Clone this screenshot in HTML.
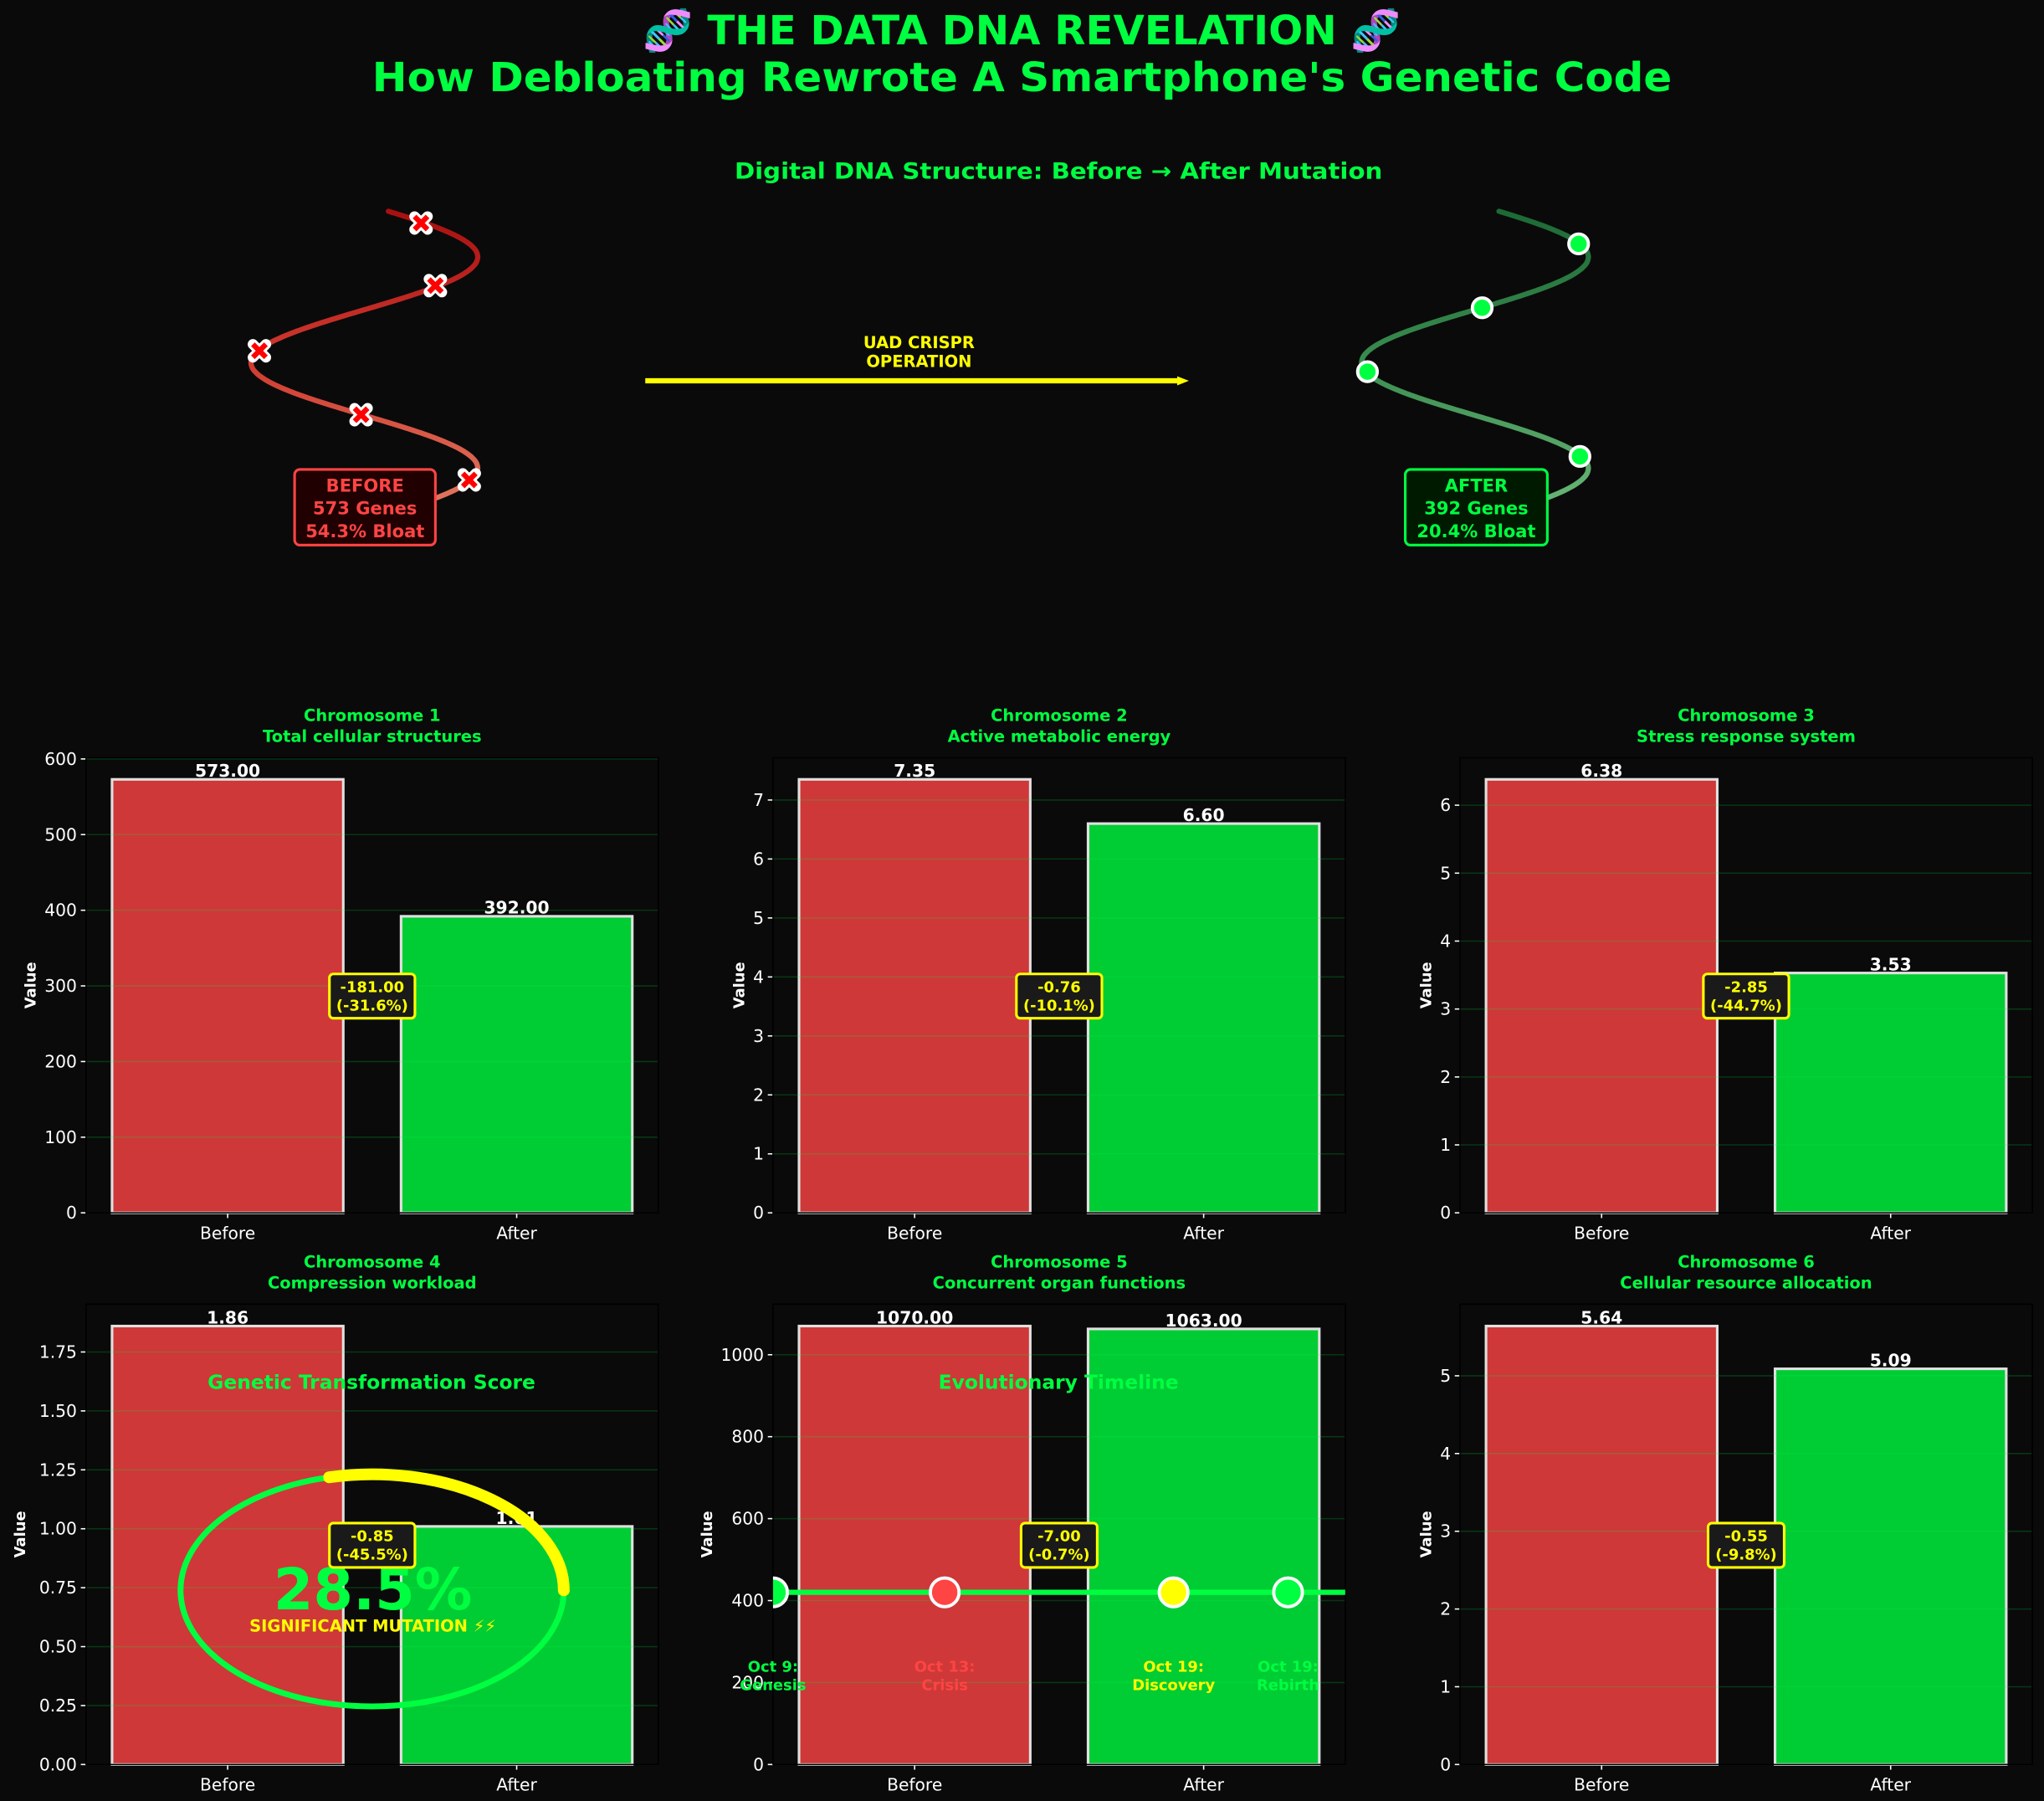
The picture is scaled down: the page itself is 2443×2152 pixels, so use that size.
<!DOCTYPE html>
<html><head><meta charset="utf-8">
<style>
html,body{margin:0;padding:0;background:#0a0a0a;}
svg{display:block;font-family:"DejaVu Sans","Liberation Sans",sans-serif;}
</style></head>
<body>
<svg id="fig" width="2443" height="2152" viewBox="0 0 1568 1381" preserveAspectRatio="none" xmlns="http://www.w3.org/2000/svg">
<defs>
<linearGradient id="redGrad" x1="0" y1="0" x2="0" y2="1"><stop offset="0" stop-color="#a81010"/><stop offset="0.5" stop-color="#d03a30"/><stop offset="1" stop-color="#e07a60"/></linearGradient>
<linearGradient id="greenGrad" x1="0" y1="0" x2="0" y2="1"><stop offset="0" stop-color="#1c6a35"/><stop offset="0.5" stop-color="#3a8c50"/><stop offset="1" stop-color="#6ab878"/></linearGradient>
<marker id="arrowHead" markerUnits="userSpaceOnUse" markerWidth="10" markerHeight="10" refX="3" refY="5" orient="auto"><path d="M0,1.5 L9,5 L0,8.5 z" fill="#ffff00"/></marker>
<clipPath id="clip5"><rect x="593" y="1000" width="439" height="353"/></clipPath>
</defs>
<rect x="0" y="0" width="1568" height="1381" fill="#0a0a0a"/>
<text x="784" y="34" text-anchor="middle" font-size="31" font-weight="bold" fill="#00ff41">🧬 THE DATA DNA REVELATION 🧬</text>
<text x="784" y="70" text-anchor="middle" font-size="31" font-weight="bold" fill="#00ff41" textLength="997" lengthAdjust="spacingAndGlyphs">How Debloating Rewrote A Smartphone's Genetic Code</text>
<text x="812" y="137" text-anchor="middle" font-size="17" font-weight="bold" fill="#00ff41" textLength="497" lengthAdjust="spacingAndGlyphs">Digital DNA Structure: Before → After Mutation</text>

<g id="dna"></g>
<g id="charts"></g>
</svg>
<script>
const categories = ['Before', 'After'];
const chromTitles = ['Chromosome 1','Chromosome 2','Chromosome 3','Chromosome 4','Chromosome 5','Chromosome 6'];
const chromSubs = ['Total cellular structures','Active metabolic energy','Stress response system','Compression workload','Concurrent organ functions','Cellular resource allocation'];
const beforeVals = [573, 7.35, 6.38, 1.86, 1070, 5.64];
const afterVals = [392, 6.60, 3.53, 1.01, 1063, 5.09];
const yTicks = [[0,100,200,300,400,500,600],[0,1,2,3,4,5,6,7],[0,1,2,3,4,5,6],[0,0.25,0.5,0.75,1,1.25,1.5,1.75],[0,200,400,600,800,1000],[0,1,2,3,4,5]];
const tickDecimals = [0,0,0,2,0,0];
const deltaLabels = ['-181.00\n(-31.6%)','-0.76\n(-10.1%)','-2.85\n(-44.7%)','-0.85\n(-45.5%)','-7.00\n(-0.7%)','-0.55\n(-9.8%)'];
const beforeGenes = 573, beforeBloat = 54.3, afterGenes = 392, afterBloat = 20.4;
const transformScore = 28.5;
const timelineDates = ['Oct 9:','Oct 13:','Oct 19:','Oct 19:'];
const timelineEvents = ['Genesis','Crisis','Discovery','Rebirth'];
const timelinePos = [0, 0.3, 0.7, 0.9];

const NS = 'http://www.w3.org/2000/svg';
function mk(tag, attrs, parent){const e=document.createElementNS(NS,tag);for(const k in attrs)e.setAttribute(k,attrs[k]);parent.appendChild(e);return e;}

/* ---------- DNA helices ---------- */
const dna = document.getElementById('dna');
function helix(cx, grad, name){
  let d='';
  for(let y=162;y<=393;y+=1){
    const t=(y-197)/81*Math.PI+Math.PI/2;
    const x=cx+87*Math.sin(t);
    d+=(d?'L':'M')+x.toFixed(1)+','+y;
  }
  const p=mk('path',{d:d,fill:'none',stroke:'url(#'+grad+')','stroke-width':4,'stroke-linecap':'round'},dna);
  
  
}
helix(279.5,'redGrad','before-helix');
helix(1131.5,'greenGrad','after-helix');
const xMarks=[[323,171],[334,219],[199,269],[277,318],[360,368]];
xMarks.forEach(function(m){
  const g=mk('g',{},dna);
  
  
  const a='M'+(m[0]-5)+','+(m[1]-5)+'L'+(m[0]+5)+','+(m[1]+5)+'M'+(m[0]+5)+','+(m[1]-5)+'L'+(m[0]-5)+','+(m[1]+5);
  mk('path',{d:a,stroke:'#ffffff','stroke-width':8,'stroke-linecap':'round'},g);
  mk('path',{d:a,stroke:'#ff0000','stroke-width':4,'stroke-linecap':'butt'},g);
});
const oMarks=[[1211,187],[1137,236],[1049,285],[1212,350]];
oMarks.forEach(function(m){
  const c=mk('circle',{cx:m[0],cy:m[1],r:7.5,fill:'#00ff41',stroke:'#ffffff','stroke-width':2.5},dna);
  
  
});
function infoBox(x,y,w,h,fill,stroke,lines,name){
  const g=mk('g',{},dna);
  
  
  mk('rect',{x:x,y:y,width:w,height:h,rx:4,fill:fill,stroke:stroke,'stroke-width':2},g);
  lines.forEach(function(l,i){
    const t=mk('text',{x:x+w/2,y:y+17+i*17.5,'text-anchor':'middle','font-size':13.5,'font-weight':'bold',fill:stroke},g);
    t.textContent=l;
  });
}
infoBox(226,360,108,58,'#200000','#ff4444',['BEFORE',beforeGenes+' Genes',beforeBloat.toFixed(1)+'% Bloat'],'before-label-box');
infoBox(1078,360,109,58,'#001a00','#00ff41',['AFTER',afterGenes+' Genes',afterBloat.toFixed(1)+'% Bloat'],'after-label-box');
const arrow=mk('line',{x1:495,y1:292,x2:906,y2:292,stroke:'#ffff00','stroke-width':4,'marker-end':'url(#arrowHead)'},dna);


['UAD CRISPR','OPERATION'].forEach(function(l,i){
  const t=mk('text',{x:705,y:267+i*14.5,'text-anchor':'middle','font-size':12.5,'font-weight':'bold',fill:'#ffff00'},dna);
  
  
  t.textContent=l;
});

/* ---------- bar charts ---------- */
const charts=document.getElementById('charts');
const colLeft=[66,593,1120], colW=439;
const rowTop=[581,1000], rowBot=[930,1353];
const XMIN=-0.49, XMAX=1.49;
for(let i=0;i<6;i++){
  const L=colLeft[i%3], T=rowTop[Math.floor(i/3)], B=rowBot[Math.floor(i/3)];
  const H=B-T;
  const ymax=Math.max(beforeVals[i],afterVals[i])*1.05;
  const xs=function(v){return L+(v-XMIN)/(XMAX-XMIN)*colW;};
  const ys=function(v){return B-v/ymax*H;};
  const g=mk('g',{},charts);
  
  
  mk('rect',{x:L,y:T,width:colW,height:H,fill:'#0a0a0a'},g);
  const t1=mk('text',{x:L+colW/2,y:T-28,'text-anchor':'middle','font-size':12.5,'font-weight':'bold',fill:'#00ff41'},g);
  
  
  t1.textContent=chromTitles[i];
  const t2=mk('text',{x:L+colW/2,y:T-12,'text-anchor':'middle','font-size':12.5,'font-weight':'bold',fill:'#00ff41'},g);
  
  
  t2.textContent=chromSubs[i];
  const vals=[beforeVals[i],afterVals[i]];
  const cols=['#ce3838','#00cc34'];
  vals.forEach(function(v,k){
    const r=mk('rect',{x:xs(k-0.4),y:ys(v),width:xs(k+0.4)-xs(k-0.4),height:B-ys(v),fill:cols[k],stroke:'#e0e0e0','stroke-width':2},g);
    
    
  });
  yTicks[i].forEach(function(tv){
    const y=ys(tv);
    const gl=mk('line',{x1:L,x2:L+colW,y1:y,y2:y,stroke:'#00ff41','stroke-opacity':0.18,'stroke-width':1},g);
    
    
    mk('line',{x1:L-4,x2:L,y1:y,y2:y,stroke:'#ffffff','stroke-width':1},g);
    const tl=mk('text',{x:L-7,y:y+4.5,'text-anchor':'end','font-size':13,fill:'#ffffff'},g);
    
    
    tl.textContent=tv.toFixed(tickDecimals[i]);
  });
  categories.forEach(function(c,k){
    mk('line',{x1:xs(k),x2:xs(k),y1:B,y2:B+4,stroke:'#ffffff','stroke-width':1},g);
    const tl=mk('text',{x:xs(k),y:B+20,'text-anchor':'middle','font-size':13,fill:'#ffffff'},g);
    
    
    tl.textContent=c;
  });
  mk('rect',{x:L,y:T,width:colW,height:H,fill:'none',stroke:'#000000','stroke-width':1},g);
  const maxLab=yTicks[i][yTicks[i].length-1].toFixed(tickDecimals[i]).length;
  const ylx=L-14-maxLab*8.2;
  const yl=mk('text',{x:ylx,y:(T+B)/2,'text-anchor':'middle','font-size':11.5,'font-weight':'bold',fill:'#ffffff',transform:'rotate(-90 '+ylx+' '+((T+B)/2)+')'},g);
  
  
  yl.textContent='Value';
  vals.forEach(function(v,k){
    const vl=mk('text',{x:xs(k),y:ys(v)-2,'text-anchor':'middle','font-size':13,'font-weight':'bold',fill:'#ffffff'},g);
    
    
    vl.textContent=v.toFixed(2);
  });

  /* overlays */
  if(i===3){
    const o=mk('g',{},g);
    
    
    const tt=mk('text',{x:285,y:1065,'text-anchor':'middle','font-size':15,'font-weight':'bold',fill:'#00ff41'},o);
    tt.textContent='Genetic Transformation Score';
    mk('ellipse',{cx:285.5,cy:1219.5,rx:147,ry:89,fill:'none',stroke:'#00ff41','stroke-width':4.5},o);
    const ang1=-103*Math.PI/180, ang2=0;
    const sx=285.5+147*Math.cos(ang1), sy=1219.5+89*Math.sin(ang1);
    const ex=285.5+147*Math.cos(ang2), ey=1219.5+89*Math.sin(ang2);
    mk('path',{d:'M'+sx+','+sy+' A147,89 0 0 1 '+ex+','+ey,fill:'none',stroke:'#ffff00','stroke-width':9,'stroke-linecap':'round'},o);
    const sc=mk('text',{x:286,y:1234,'text-anchor':'middle','font-size':44,'font-weight':'bold',fill:'#00ff41'},o);
    
    
    sc.textContent=transformScore.toFixed(1)+'%';
    const sm=mk('text',{x:286,y:1251,'text-anchor':'middle','font-size':12.5,'font-weight':'bold',fill:'#ffff00'},o);
    sm.textContent='SIGNIFICANT MUTATION ⚡⚡';
  }
  if(i===4){
    const o=mk('g',{},g);
    
    
    const oc=mk('g',{'clip-path':'url(#clip5)'},o);
    const tt=mk('text',{x:812,y:1065,'text-anchor':'middle','font-size':15,'font-weight':'bold',fill:'#00ff41'},o);
    tt.textContent='Evolutionary Timeline';
    mk('line',{x1:593,x2:1032,y1:1221,y2:1221,stroke:'#00ff41','stroke-width':4},oc);
    const tcols=['#00ff41','#ff4444','#ffff00','#00ff41'];
    timelinePos.forEach(function(p,k){
      const cx=593+p*439;
      const c=mk('circle',{cx:cx,cy:1221,r:11,fill:tcols[k],stroke:'#ffffff','stroke-width':2.5},oc);
      
      
      const a=mk('text',{x:cx,y:1282,'text-anchor':'middle','font-size':11.5,'font-weight':'bold',fill:tcols[k]},o);
      a.textContent=timelineDates[k];
      const b=mk('text',{x:cx,y:1296,'text-anchor':'middle','font-size':11.5,'font-weight':'bold',fill:tcols[k]},o);
      b.textContent=timelineEvents[k];
    });
  }

  /* delta annotation */
  const cy=ys(beforeVals[i]/2);
  const cx=xs(0.5);
  const ag=mk('g',{},g);
  
  
  const lines=deltaLabels[i].split('\n');
  const w=Math.max(lines[0].length,lines[1].length)*7.2+8;
  mk('rect',{x:cx-w/2,y:cy-17,width:w,height:34,rx:3,fill:'#1a1a1a',stroke:'#ffff00','stroke-width':2},ag);
  lines.forEach(function(l,k){
    const t=mk('text',{x:cx,y:cy-3+k*14,'text-anchor':'middle','font-size':11.5,'font-weight':'bold',fill:'#ffff00'},ag);
    t.textContent=l;
  });
}
</script>
</body></html>
